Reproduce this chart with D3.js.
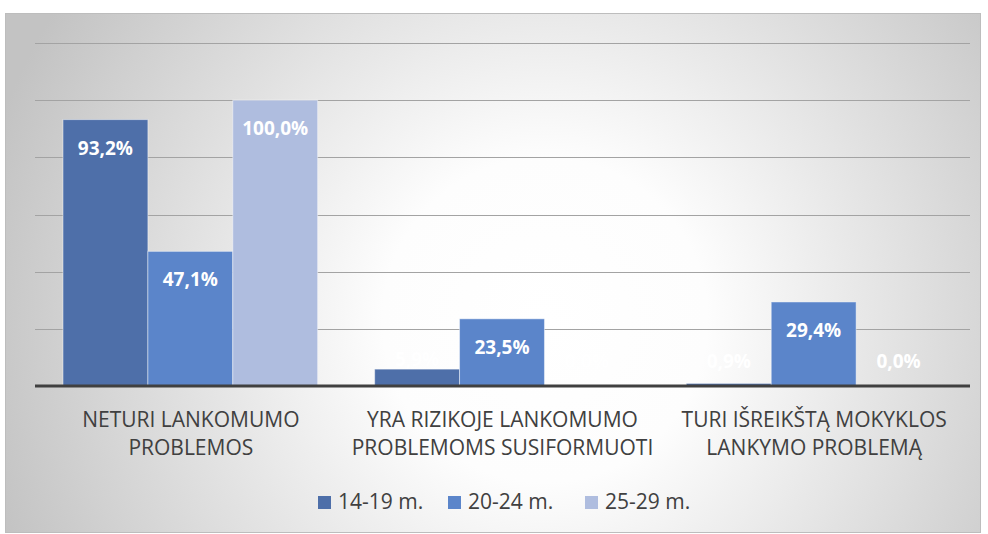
<!DOCTYPE html>
<html>
<head>
<meta charset="utf-8">
<script src="https://cdn.jsdelivr.net/npm/d3@7"></script>
<style>
  body { margin: 0; background: #fff; }
</style>
</head>
<body>
<div id="cont"></div>
<script>
// Data
var categories = [
  ["NETURI LANKOMUMO", "PROBLEMOS"],
  ["YRA RIZIKOJE LANKOMUMO", "PROBLEMOMS SUSIFORMUOTI"],
  ["TURI IŠREIKŠTĄ MOKYKLOS", "LANKYMO PROBLEMĄ"]
];
var seriesNames = ["14-19 m.", "20-24 m.", "25-29 m."];
var s1419 = [93.2, 5.9, 0.9];
var s2024 = [47.1, 23.5, 29.4];
var s2529 = [100.0, 0.0, 0.0];
var yTicks = [0, 20, 40, 60, 80, 100, 120];

var colors = ["#4e6fa9", "#5b85ca", "#afbddf"];
var seriesVals = [s1419, s2024, s2529];

var W = 988, H = 534;
var svg = d3.select("#cont").append("svg")
    .attr("width", W)
    .attr("height", H);

// background gradient
var defs = svg.append("defs");
var grad = defs.append("radialGradient")
    .attr("id", "bg")
    .attr("gradientUnits", "userSpaceOnUse")
    .attr("cx", 545).attr("cy", 320).attr("r", 580);
grad.append("stop").attr("offset", "0%").attr("stop-color", "#ffffff");
grad.append("stop").attr("offset", "28%").attr("stop-color", "#fdfdfd");
grad.append("stop").attr("offset", "100%").attr("stop-color", "#c3c3c3");

svg.append("rect")
    .attr("x", 5.5).attr("y", 13.5)
    .attr("width", 975).attr("height", 519)
    .attr("fill", "url(#bg)")
    .attr("stroke", "#bdbdbd")
    .attr("stroke-width", 1);

var plotL = 35, plotR = 970, plotT = 43, plotB = 386;

var y = d3.scaleLinear().domain([0, 120]).range([plotB, plotT]);
var x0 = d3.scaleBand().domain(d3.range(categories.length)).range([plotL, plotR]).padding(0);
var x1 = d3.scaleBand().domain(d3.range(seriesNames.length))
    .range([28, x0.bandwidth() - 29]).padding(0);

// gridlines
svg.append("g").selectAll("line")
  .data(yTicks.filter(function(d) { return d > 0; }))
  .enter().append("line")
    .attr("x1", plotL).attr("x2", plotR)
    .attr("y1", function(d) { return Math.round(y(d)) + 0.5; })
    .attr("y2", function(d) { return Math.round(y(d)) + 0.5; })
    .attr("stroke", "#a3a3a3")
    .attr("stroke-width", 1);

// bars
var groups = svg.append("g").selectAll("g")
  .data(categories)
  .enter().append("g")
    .attr("transform", function(d, i) { return "translate(" + x0(i) + ",0)"; });

function rows(d, i) {
  return seriesVals.map(function(s, k) { return {k: k, v: s[i]}; });
}

groups.selectAll("rect")
  .data(rows)
  .enter().append("rect")
    .attr("x", function(d) { return x1(d.k); })
    .attr("y", function(d) { return y(d.v); })
    .attr("width", x1.bandwidth())
    .attr("height", function(d) { return plotB - y(d.v); })
    .attr("fill", function(d) { return colors[d.k]; })
    .attr("stroke", "rgba(255,255,255,0.45)")
    .attr("stroke-width", 1);

// labels (inside end; short bars push the label above the bar)
groups.selectAll("text.lbl")
  .data(rows)
  .enter().append("text")
    .attr("class", "lbl")
    .attr("x", function(d) { return x1(d.k) + x1.bandwidth() / 2; })
    .attr("y", function(d) {
      var t = y(d.v);
      if (plotB - t < 40) return Math.min(t - 3, plotB - 18);
      return t + 35;
    })
    .attr("text-anchor", "middle")
    .attr("font-family", "'Open Sans', sans-serif")
    .attr("font-weight", "bold")
    .attr("font-size", 19)
    .attr("fill", "#ffffff")
    .text(function(d) { return d.v.toFixed(1).replace(".", ",") + "%"; });

// baseline
svg.append("line")
    .attr("x1", plotL).attr("x2", plotR)
    .attr("y1", plotB).attr("y2", plotB)
    .attr("stroke", "#404040")
    .attr("stroke-width", 3);

// category labels
var catText = svg.append("g").selectAll("text")
  .data(categories)
  .enter().append("text")
    .attr("x", function(d, i) { return x0(i) + x0.bandwidth() / 2; })
    .attr("y", 427)
    .attr("text-anchor", "middle")
    .attr("font-family", "'Open Sans', sans-serif")
    .attr("font-size", 21)
    .attr("fill", "#404040");
catText.selectAll("tspan")
  .data(function(d) { return d; })
  .enter().append("tspan")
    .attr("x", function() { return d3.select(this.parentNode).attr("x"); })
    .attr("dy", function(d, i) { return i === 0 ? 0 : 28; })
    .text(function(d) { return d; });

// legend
var legX = [318, 448, 585];
var leg = svg.append("g").selectAll("g")
  .data(seriesNames)
  .enter().append("g")
    .attr("transform", function(d, i) { return "translate(" + legX[i] + ",496)"; });
leg.append("rect")
    .attr("width", 13).attr("height", 13)
    .attr("fill", function(d, i) { return colors[i]; });
leg.append("text")
    .attr("x", 20).attr("y", 13)
    .attr("font-family", "'Open Sans', sans-serif")
    .attr("font-size", 21)
    .attr("fill", "#404040")
    .text(function(d) { return d; });
</script>
</body>
</html>
